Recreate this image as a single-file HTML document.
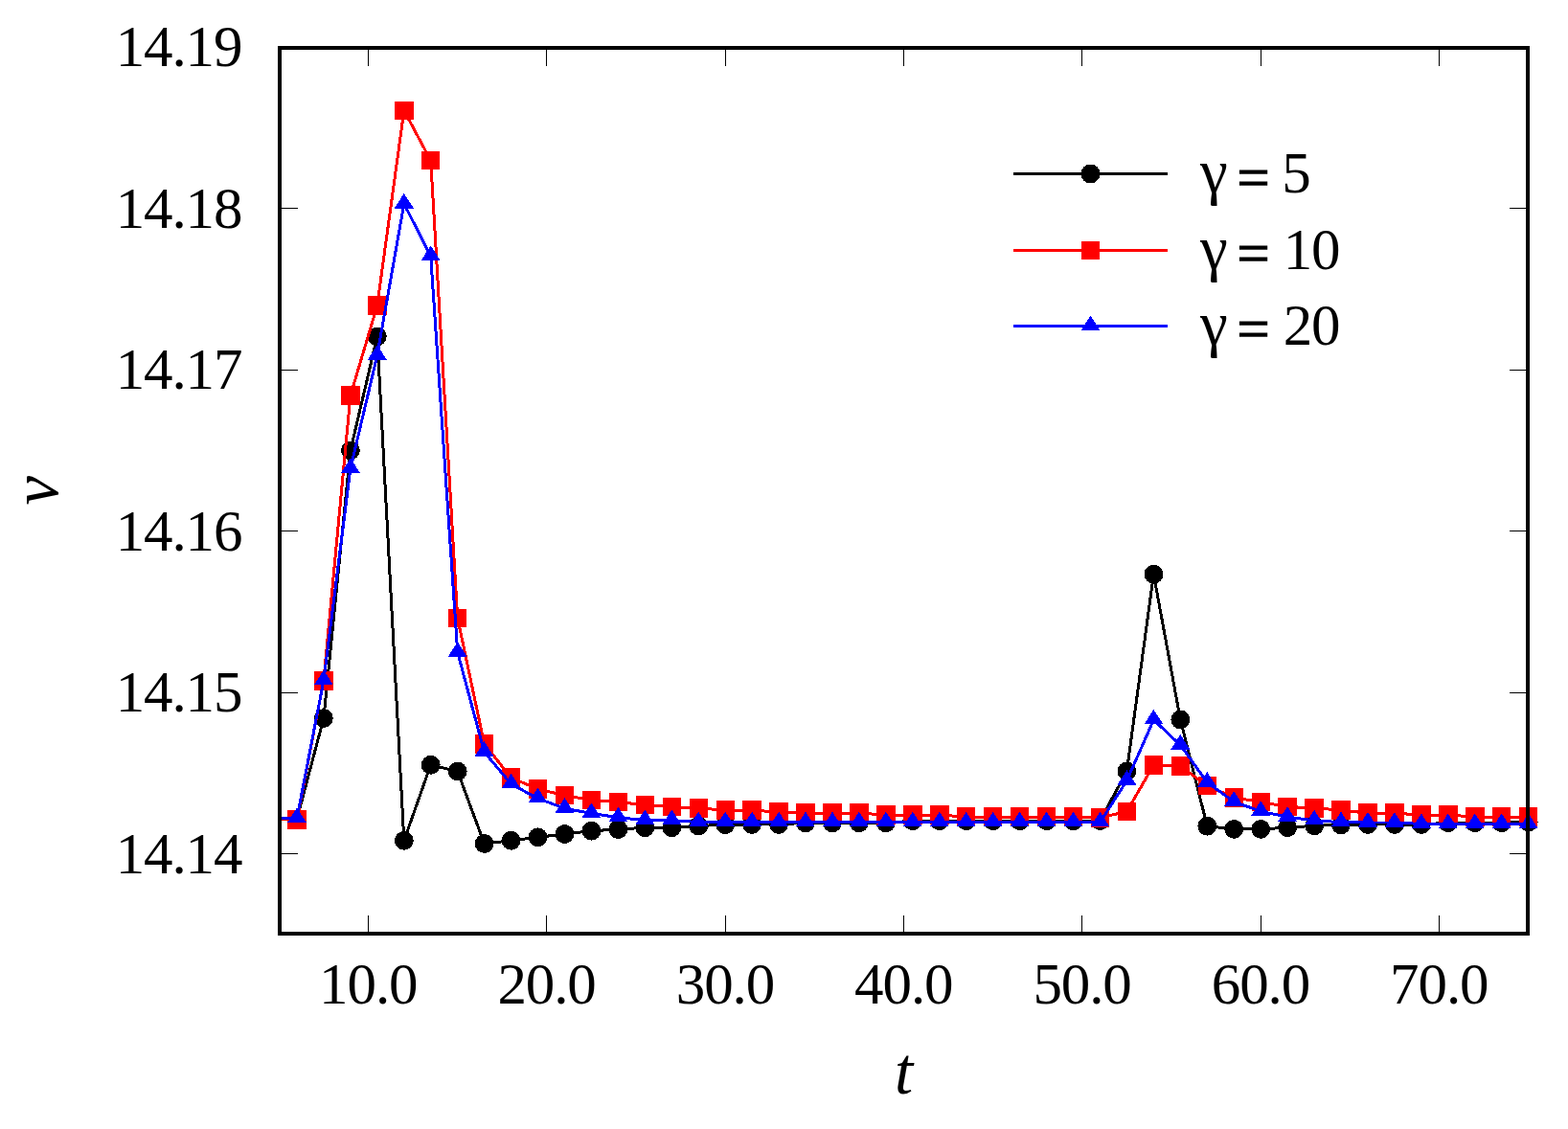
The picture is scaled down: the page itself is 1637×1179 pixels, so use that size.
<!DOCTYPE html>
<html lang="en">
<head>
<meta charset="utf-8">
<title>v versus t</title>
<style>
html,body{margin:0;padding:0;background:#fff;}
body{width:1637px;height:1179px;overflow:hidden;}
svg{display:block;}
text{font-family:"Liberation Serif","DejaVu Serif",serif;fill:#000;}
.tk{font-size:61px;letter-spacing:-1.1px;}
.gm{font-size:65px;letter-spacing:0;}
.eq{font-size:60.4px;letter-spacing:0;stroke:#000;stroke-width:1.2px;}
.ax{font-size:69px;font-style:italic;}
.ln{fill:none;stroke-width:3;stroke-linejoin:round;stroke-linecap:butt;}
</style>
</head>
<body>
<svg width="1637" height="1179" viewBox="0 0 1637 1179" shape-rendering="crispEdges">
<rect x="0" y="0" width="1637" height="1179" fill="#fff"/>
<g id="data">
<polyline class="ln" stroke="#000" points="292,855 310,855.5 337.9,750 365.9,470.4 393.8,351.4 421.8,877.8 449.7,798.8 477.7,805.5 505.6,881 533.6,877.8 561.5,874.3 589.5,871 617.4,867.7 645.4,866.1 673.3,864.3 701.3,864.3 729.2,862.5 757.2,861.2 785.1,861 813.1,861 841,859.3 869,859.3 896.9,859.3 924.9,859.3 952.8,857.2 980.8,857.2 1008.7,857.2 1036.7,857.2 1064.6,857.2 1092.6,857.2 1120.5,857.2 1148.5,857 1176.4,805.4 1204.4,599.7 1232.3,751.4 1260.3,862.7 1288.2,865.9 1316.2,865.9 1344.1,864.2 1372.1,862.3 1400,861.4 1428,861 1455.9,861 1483.9,861 1511.8,859.2 1539.8,859.2 1567.7,859.2 1595.7,858.5"/>
<g fill="#000">
<circle cx="310" cy="855.5" r="9.9"/>
<circle cx="337.9" cy="750" r="9.9"/>
<circle cx="365.9" cy="470.4" r="9.9"/>
<circle cx="393.8" cy="351.4" r="9.9"/>
<circle cx="421.8" cy="877.8" r="9.9"/>
<circle cx="449.7" cy="798.8" r="9.9"/>
<circle cx="477.7" cy="805.5" r="9.9"/>
<circle cx="505.6" cy="881" r="9.9"/>
<circle cx="533.6" cy="877.8" r="9.9"/>
<circle cx="561.5" cy="874.3" r="9.9"/>
<circle cx="589.5" cy="871" r="9.9"/>
<circle cx="617.4" cy="867.7" r="9.9"/>
<circle cx="645.4" cy="866.1" r="9.9"/>
<circle cx="673.3" cy="864.3" r="9.9"/>
<circle cx="701.3" cy="864.3" r="9.9"/>
<circle cx="729.2" cy="862.5" r="9.9"/>
<circle cx="757.2" cy="861.2" r="9.9"/>
<circle cx="785.1" cy="861" r="9.9"/>
<circle cx="813.1" cy="861" r="9.9"/>
<circle cx="841" cy="859.3" r="9.9"/>
<circle cx="869" cy="859.3" r="9.9"/>
<circle cx="896.9" cy="859.3" r="9.9"/>
<circle cx="924.9" cy="859.3" r="9.9"/>
<circle cx="952.8" cy="857.2" r="9.9"/>
<circle cx="980.8" cy="857.2" r="9.9"/>
<circle cx="1008.7" cy="857.2" r="9.9"/>
<circle cx="1036.7" cy="857.2" r="9.9"/>
<circle cx="1064.6" cy="857.2" r="9.9"/>
<circle cx="1092.6" cy="857.2" r="9.9"/>
<circle cx="1120.5" cy="857.2" r="9.9"/>
<circle cx="1148.5" cy="857" r="9.9"/>
<circle cx="1176.4" cy="805.4" r="9.9"/>
<circle cx="1204.4" cy="599.7" r="9.9"/>
<circle cx="1232.3" cy="751.4" r="9.9"/>
<circle cx="1260.3" cy="862.7" r="9.9"/>
<circle cx="1288.2" cy="865.9" r="9.9"/>
<circle cx="1316.2" cy="865.9" r="9.9"/>
<circle cx="1344.1" cy="864.2" r="9.9"/>
<circle cx="1372.1" cy="862.3" r="9.9"/>
<circle cx="1400" cy="861.4" r="9.9"/>
<circle cx="1428" cy="861" r="9.9"/>
<circle cx="1455.9" cy="861" r="9.9"/>
<circle cx="1483.9" cy="861" r="9.9"/>
<circle cx="1511.8" cy="859.2" r="9.9"/>
<circle cx="1539.8" cy="859.2" r="9.9"/>
<circle cx="1567.7" cy="859.2" r="9.9"/>
<circle cx="1595.7" cy="858.5" r="9.9"/>
</g>
<polyline class="ln" stroke="#f00" points="292,855 310,855.9 337.9,710.8 365.9,413 393.8,319.1 421.8,115.5 449.7,167.6 477.7,645.5 505.6,776.9 533.6,812.1 561.5,824 589.5,830.6 617.4,835.6 645.4,837.6 673.3,840.6 701.3,842.5 729.2,844 757.2,846 785.1,846.1 813.1,848 841,849 869,849 896.9,849 924.9,851.1 952.8,851.1 980.8,851.1 1008.7,853 1036.7,853 1064.6,853 1092.6,853 1120.5,853 1148.5,853.7 1176.4,847.6 1204.4,798.8 1232.3,800.1 1260.3,820.6 1288.2,832.8 1316.2,837.5 1344.1,842.6 1372.1,843.7 1400,846.2 1428,849.1 1455.9,849.1 1483.9,851.1 1511.8,851.1 1539.8,853 1567.7,853 1595.7,853"/>
<g fill="#f00">
<rect x="300.3" y="846.1" width="19.4" height="19.6"/>
<rect x="328.2" y="701" width="19.4" height="19.6"/>
<rect x="356.2" y="403.2" width="19.4" height="19.6"/>
<rect x="384.1" y="309.3" width="19.4" height="19.6"/>
<rect x="412.1" y="105.7" width="19.4" height="19.6"/>
<rect x="440" y="157.8" width="19.4" height="19.6"/>
<rect x="468" y="635.7" width="19.4" height="19.6"/>
<rect x="495.9" y="767.1" width="19.4" height="19.6"/>
<rect x="523.9" y="802.3" width="19.4" height="19.6"/>
<rect x="551.8" y="814.2" width="19.4" height="19.6"/>
<rect x="579.8" y="820.8" width="19.4" height="19.6"/>
<rect x="607.7" y="825.8" width="19.4" height="19.6"/>
<rect x="635.7" y="827.8" width="19.4" height="19.6"/>
<rect x="663.6" y="830.8" width="19.4" height="19.6"/>
<rect x="691.6" y="832.7" width="19.4" height="19.6"/>
<rect x="719.5" y="834.2" width="19.4" height="19.6"/>
<rect x="747.5" y="836.2" width="19.4" height="19.6"/>
<rect x="775.4" y="836.3" width="19.4" height="19.6"/>
<rect x="803.4" y="838.2" width="19.4" height="19.6"/>
<rect x="831.3" y="839.2" width="19.4" height="19.6"/>
<rect x="859.3" y="839.2" width="19.4" height="19.6"/>
<rect x="887.2" y="839.2" width="19.4" height="19.6"/>
<rect x="915.2" y="841.3" width="19.4" height="19.6"/>
<rect x="943.1" y="841.3" width="19.4" height="19.6"/>
<rect x="971.1" y="841.3" width="19.4" height="19.6"/>
<rect x="999" y="843.2" width="19.4" height="19.6"/>
<rect x="1027" y="843.2" width="19.4" height="19.6"/>
<rect x="1054.9" y="843.2" width="19.4" height="19.6"/>
<rect x="1082.9" y="843.2" width="19.4" height="19.6"/>
<rect x="1110.8" y="843.2" width="19.4" height="19.6"/>
<rect x="1138.8" y="843.9" width="19.4" height="19.6"/>
<rect x="1166.7" y="837.8" width="19.4" height="19.6"/>
<rect x="1194.7" y="789" width="19.4" height="19.6"/>
<rect x="1222.6" y="790.3" width="19.4" height="19.6"/>
<rect x="1250.6" y="810.8" width="19.4" height="19.6"/>
<rect x="1278.5" y="823" width="19.4" height="19.6"/>
<rect x="1306.5" y="827.7" width="19.4" height="19.6"/>
<rect x="1334.4" y="832.8" width="19.4" height="19.6"/>
<rect x="1362.4" y="833.9" width="19.4" height="19.6"/>
<rect x="1390.3" y="836.4" width="19.4" height="19.6"/>
<rect x="1418.3" y="839.3" width="19.4" height="19.6"/>
<rect x="1446.2" y="839.3" width="19.4" height="19.6"/>
<rect x="1474.2" y="841.3" width="19.4" height="19.6"/>
<rect x="1502.1" y="841.3" width="19.4" height="19.6"/>
<rect x="1530.1" y="843.2" width="19.4" height="19.6"/>
<rect x="1558" y="843.2" width="19.4" height="19.6"/>
<rect x="1586" y="843.2" width="19.4" height="19.6"/>
</g>
<polyline class="ln" stroke="#00f" points="292,855 310,854.5 337.9,710.7 365.9,489.3 393.8,371.1 421.8,212.9 449.7,267.4 477.7,681.2 505.6,785.3 533.6,818.8 561.5,833.8 589.5,844.2 617.4,849.4 645.4,853.7 673.3,856.5 701.3,856.5 729.2,858.6 757.2,858.6 785.1,858.7 813.1,858.7 841,858.7 869,858.7 896.9,858.7 924.9,858.7 952.8,858.7 980.8,858.7 1008.7,858.7 1036.7,858.7 1064.6,858.7 1092.6,858.7 1120.5,858.7 1148.5,858.7 1176.4,815.2 1204.4,751.8 1232.3,778 1260.3,817.1 1288.2,837.2 1316.2,847.3 1344.1,853.2 1372.1,856.8 1400,858.7 1428,859 1455.9,859 1483.9,860.5 1511.8,860.5 1539.8,860.5 1567.7,860.5 1595.7,860.5"/>
<g fill="#00f">
<path d="M310 843.5l-10 15.6h20z"/>
<path d="M337.9 699.7l-10 15.6h20z"/>
<path d="M365.9 478.3l-10 15.6h20z"/>
<path d="M393.8 360.1l-10 15.6h20z"/>
<path d="M421.8 201.9l-10 15.6h20z"/>
<path d="M449.7 256.4l-10 15.6h20z"/>
<path d="M477.7 670.2l-10 15.6h20z"/>
<path d="M505.6 774.3l-10 15.6h20z"/>
<path d="M533.6 807.8l-10 15.6h20z"/>
<path d="M561.5 822.8l-10 15.6h20z"/>
<path d="M589.5 833.2l-10 15.6h20z"/>
<path d="M617.4 838.4l-10 15.6h20z"/>
<path d="M645.4 842.7l-10 15.6h20z"/>
<path d="M673.3 845.5l-10 15.6h20z"/>
<path d="M701.3 845.5l-10 15.6h20z"/>
<path d="M729.2 847.6l-10 15.6h20z"/>
<path d="M757.2 847.6l-10 15.6h20z"/>
<path d="M785.1 847.7l-10 15.6h20z"/>
<path d="M813.1 847.7l-10 15.6h20z"/>
<path d="M841 847.7l-10 15.6h20z"/>
<path d="M869 847.7l-10 15.6h20z"/>
<path d="M896.9 847.7l-10 15.6h20z"/>
<path d="M924.9 847.7l-10 15.6h20z"/>
<path d="M952.8 847.7l-10 15.6h20z"/>
<path d="M980.8 847.7l-10 15.6h20z"/>
<path d="M1008.7 847.7l-10 15.6h20z"/>
<path d="M1036.7 847.7l-10 15.6h20z"/>
<path d="M1064.6 847.7l-10 15.6h20z"/>
<path d="M1092.6 847.7l-10 15.6h20z"/>
<path d="M1120.5 847.7l-10 15.6h20z"/>
<path d="M1148.5 847.7l-10 15.6h20z"/>
<path d="M1176.4 804.2l-10 15.6h20z"/>
<path d="M1204.4 740.8l-10 15.6h20z"/>
<path d="M1232.3 767l-10 15.6h20z"/>
<path d="M1260.3 806.1l-10 15.6h20z"/>
<path d="M1288.2 826.2l-10 15.6h20z"/>
<path d="M1316.2 836.3l-10 15.6h20z"/>
<path d="M1344.1 842.2l-10 15.6h20z"/>
<path d="M1372.1 845.8l-10 15.6h20z"/>
<path d="M1400 847.7l-10 15.6h20z"/>
<path d="M1428 848l-10 15.6h20z"/>
<path d="M1455.9 848l-10 15.6h20z"/>
<path d="M1483.9 849.5l-10 15.6h20z"/>
<path d="M1511.8 849.5l-10 15.6h20z"/>
<path d="M1539.8 849.5l-10 15.6h20z"/>
<path d="M1567.7 849.5l-10 15.6h20z"/>
<path d="M1595.7 849.5l-10 15.6h20z"/>
</g>
</g>
<g id="ticks" fill="#000">
<rect x="384" y="52" width="1" height="17"/><rect x="384" y="956" width="1" height="17"/>
<rect x="570" y="52" width="1" height="17"/><rect x="570" y="956" width="1" height="17"/>
<rect x="757" y="52" width="1" height="17"/><rect x="757" y="956" width="1" height="17"/>
<rect x="943" y="52" width="1" height="17"/><rect x="943" y="956" width="1" height="17"/>
<rect x="1129" y="52" width="1" height="17"/><rect x="1129" y="956" width="1" height="17"/>
<rect x="1316" y="52" width="1" height="17"/><rect x="1316" y="956" width="1" height="17"/>
<rect x="1502" y="52" width="1" height="17"/><rect x="1502" y="956" width="1" height="17"/>
<rect x="294" y="891" width="17" height="1"/><rect x="1576" y="891" width="17" height="1"/>
<rect x="294" y="723" width="17" height="1"/><rect x="1576" y="723" width="17" height="1"/>
<rect x="294" y="554" width="17" height="1"/><rect x="1576" y="554" width="17" height="1"/>
<rect x="294" y="386" width="17" height="1"/><rect x="1576" y="386" width="17" height="1"/>
<rect x="294" y="217" width="17" height="1"/><rect x="1576" y="217" width="17" height="1"/>
</g>
<rect x="292" y="50" width="1303" height="925" fill="none" stroke="#000" stroke-width="4"/>
<g class="tk" text-anchor="end">
<text x="252.4" y="911.7">14.14</text>
<text x="252.4" y="743.2">14.15</text>
<text x="252.4" y="574.7">14.16</text>
<text x="252.4" y="406.2">14.17</text>
<text x="252.4" y="237.7">14.18</text>
<text x="252.4" y="69.2">14.19</text>
</g>
<g class="tk" text-anchor="middle">
<text x="384.3" y="1047.6">10.0</text>
<text x="570.6" y="1047.6">20.0</text>
<text x="757" y="1047.6">30.0</text>
<text x="943.3" y="1047.6">40.0</text>
<text x="1129.6" y="1047.6">50.0</text>
<text x="1316" y="1047.6">60.0</text>
<text x="1502.3" y="1047.6">70.0</text>
</g>
<text class="ax" x="943.5" y="1142" text-anchor="middle">t</text>
<text class="ax" transform="translate(60.4 512.3) rotate(-90)" text-anchor="middle">v</text>
<g id="legend">
<rect x="1058" y="180" width="161" height="3" fill="#000"/>
<g fill="#000"><circle cx="1138.5" cy="181.5" r="9.9"/></g>
<text class="tk" y="201"><tspan class="gm" x="1252.9">γ</tspan> <tspan class="eq" x="1291.4" dy="4.5">=</tspan> <tspan x="1338.3" dy="-4.5">5</tspan></text>
<rect x="1058" y="260" width="161" height="3" fill="#f00"/>
<g fill="#f00"><rect x="1128.8" y="251.7" width="19.4" height="19.6"/></g>
<text class="tk" y="280.7"><tspan class="gm" x="1252.9">γ</tspan> <tspan class="eq" x="1291.4" dy="4.5">=</tspan> <tspan x="1339.7" dy="-4.5">10</tspan></text>
<rect x="1058" y="339" width="161" height="3" fill="#00f"/>
<g fill="#00f"><path d="M1138.5 329.5l-10 15.6h20z"/></g>
<text class="tk" y="359.9"><tspan class="gm" x="1252.9">γ</tspan> <tspan class="eq" x="1291.4" dy="4.5">=</tspan> <tspan x="1339.7" dy="-4.5">20</tspan></text>
</g>
</svg>
</body>
</html>
